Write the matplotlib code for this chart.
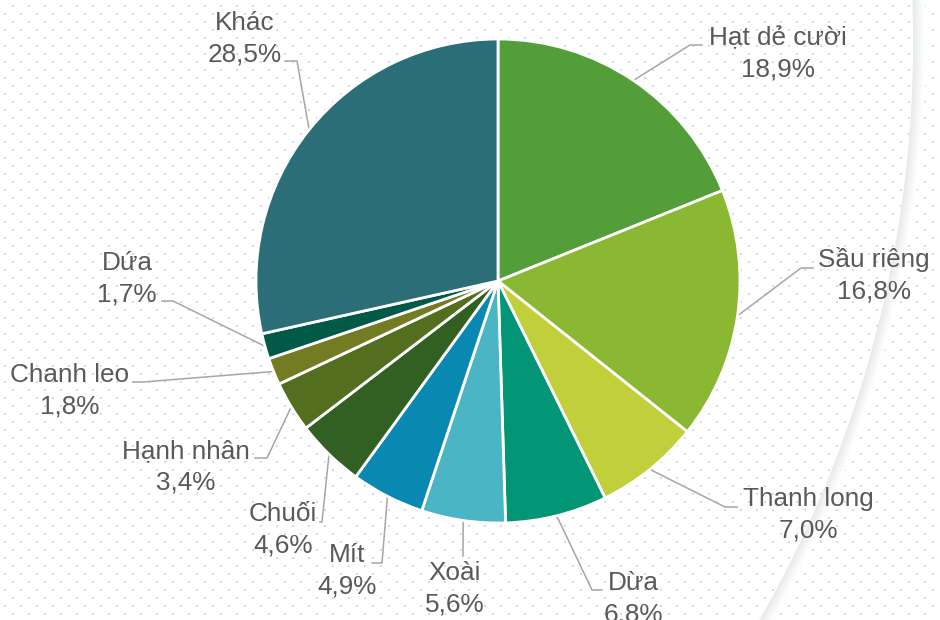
import numpy as np
import matplotlib
matplotlib.use("Agg")
import matplotlib.pyplot as plt

plt.rcParams['font.family'] = ['Liberation Sans', 'DejaVu Sans']

# du lieu (%)
nhom = ['Hạt dẻ cười', 'Sầu riêng', 'Thanh long', 'Dừa', 'Xoài', 'Mít',
        'Chuối', 'Hạnh nhân', 'Chanh leo', 'Dứa', 'Khác']
ty_le = [18.9, 16.8, 7.0, 6.8, 5.6, 4.9, 4.6, 3.4, 1.8, 1.7, 28.5]
mau = ['#549E39', '#8AB833', '#C0CF3A', '#029676', '#4AB5C4', '#0989B1',
       '#325F22', '#536E1F', '#737C23', '#015A47', '#2B6E78']

# vi tri nhan (pixel tu goc tren trai): tam x, baseline dong 1
nhan_x = [778, 874, 808, 633, 455, 347, 283, 186, 70, 127, 245]
nhan_y = [45, 267, 506, 590, 580, 562, 521, 458, 382, 270, 30]
# diem gap khuc cua duong dan va diem cuoi gan chu
gap_x = [690, 801, 725, 592, 463, 382, 322, 267, 143, 173, 297]
gap_y = [45, 268, 507, 590, 556, 563, 522, 458, 382, 301, 61]
cuoi_x = [702, 813, 737, 602, 463, 372, 320, 255, 133, 162, 285]

W, H = 940, 620
CX, CY, R = 498, 281, 242
mau_chu = '#595959'
mau_duong = '#A6A6A6'


def py(y):
    return H - y


fig = plt.figure(figsize=(9.4, 6.2), dpi=100)
ax = fig.add_axes([0, 0, 1, 1])

# nen cham
xs, ys = [], []
for k, y in enumerate(np.arange(5.7, H, 8)):
    x0 = 12.7 if k % 2 == 0 else 4.7
    for x in np.arange(x0, W, 16):
        xs.append(x)
        ys.append(py(y))
ax.scatter(xs, ys, s=2.2, marker='s', color='#CCDAF5', linewidths=0, zorder=0)

# cung tron mo ben phai
t = np.radians(np.linspace(-33, 5, 400))
acx, acy, ar = -251, py(42), 1165
for i, c in enumerate(np.linspace(0.915, 1.0, 12)):
    rr = ar + i
    ax.plot(acx + rr * np.cos(t), acy + rr * np.sin(t),
            color=(c, min(c + 0.006, 1), min(c + 0.006, 1)),
            lw=1.3, zorder=1, solid_capstyle='butt')

wedges, _ = ax.pie(ty_le, colors=mau, startangle=90, counterclock=False,
                   center=(CX, py(CY)), radius=R,
                   wedgeprops=dict(edgecolor='white', linewidth=2.0))
for w in wedges:
    w.set_zorder(3)

for i, w in enumerate(wedges):
    goc = np.radians((w.theta1 + w.theta2) / 2)
    ex = CX + R * np.cos(goc)
    ey = py(CY) + R * np.sin(goc)
    ax.plot([ex, gap_x[i], cuoi_x[i]], [ey, py(gap_y[i]), py(gap_y[i])],
            color=mau_duong, lw=1.1, zorder=2)
    pct = f"{ty_le[i]:.1f}".replace('.', ',') + '%'
    ax.text(nhan_x[i], py(nhan_y[i]), nhom[i], ha='center', va='baseline',
            fontsize=18.8, color=mau_chu, zorder=4)
    ax.text(nhan_x[i], py(nhan_y[i] + 31.5), pct, ha='center', va='baseline',
            fontsize=18.8, color=mau_chu, zorder=4)

ax.set_xlim(0, W)
ax.set_ylim(0, H)
ax.set_aspect('equal')
ax.axis('off')

fig.savefig('out.png', dpi=100, facecolor='white')
